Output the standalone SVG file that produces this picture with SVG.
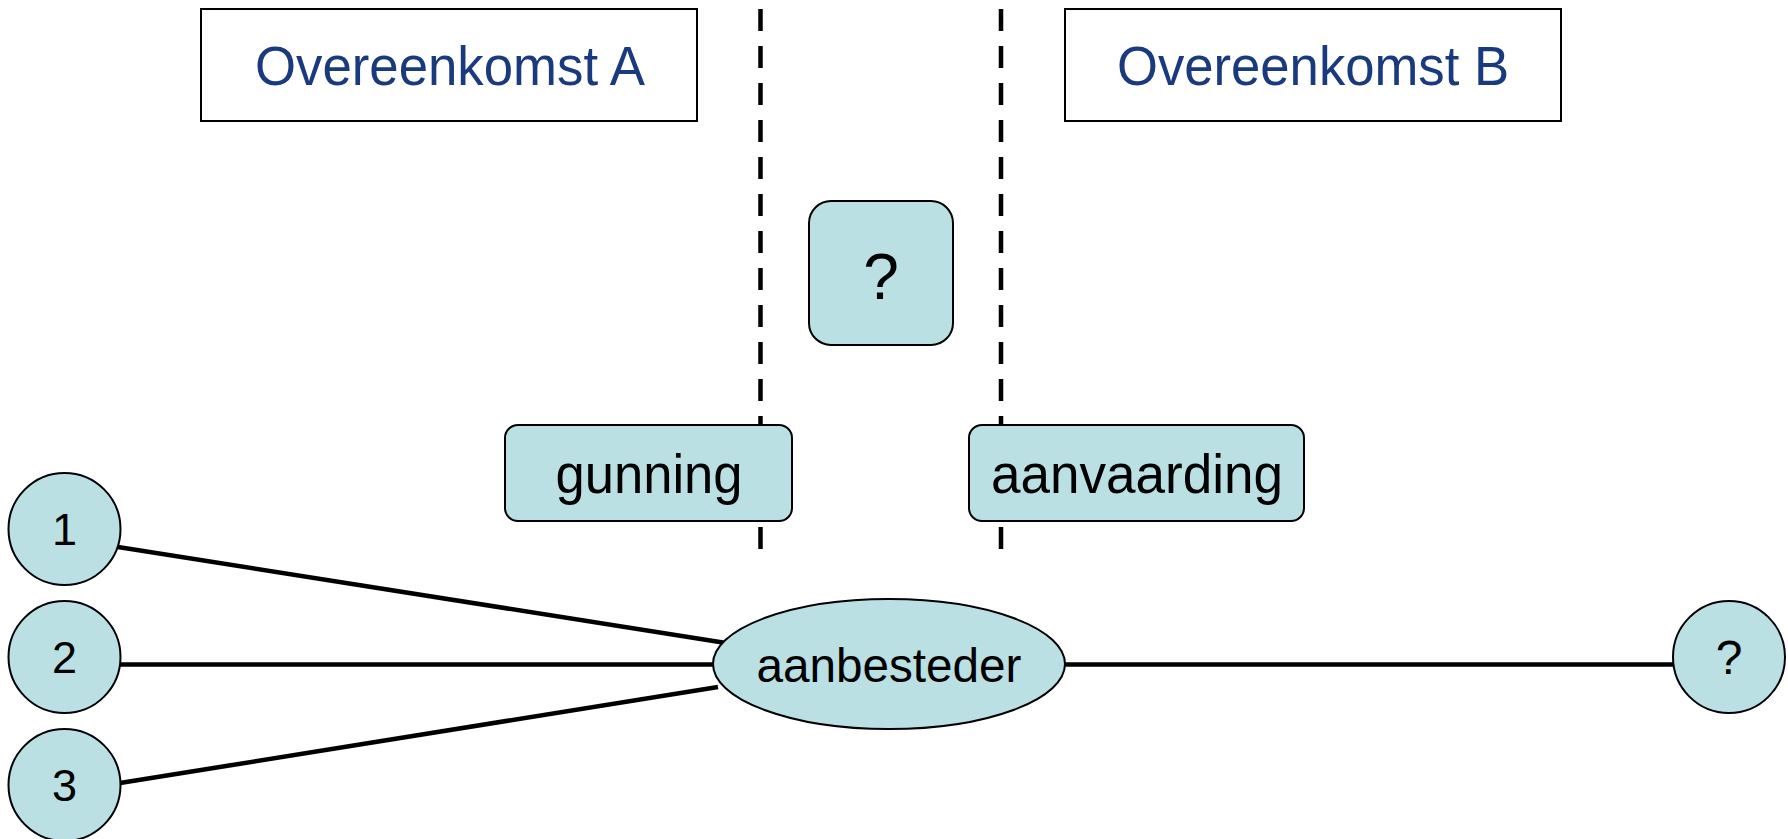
<svg xmlns="http://www.w3.org/2000/svg" width="1788" height="839" viewBox="0 0 1788 839">
<style>
.hdr{fill:#fff;stroke:#000;stroke-width:2}
.hdrt{font-family:"Liberation Sans",Arial,sans-serif;font-size:56px;fill:#1a3a80;text-anchor:middle}
.nd{fill:#bbe0e3;stroke:#000;stroke-width:2}
.t{font-family:"Liberation Sans",Arial,sans-serif;fill:#000;text-anchor:middle}
.dash{stroke:#000;stroke-width:4.5;stroke-dasharray:22 15;fill:none}
.con{stroke:#000;stroke-width:4.5;fill:none}
</style>
<rect width="1788" height="839" fill="#fff"/>
<g id="dividers">
<line class="dash" x1="760.5" y1="9" x2="760.5" y2="553"/>
<line class="dash" x1="1001" y1="9" x2="1001" y2="553"/>
</g>
<g id="connectors">
<line class="con" x1="118" y1="547" x2="726" y2="643"/>
<line class="con" x1="120" y1="664.5" x2="714" y2="664.5"/>
<line class="con" x1="120" y1="783" x2="718" y2="687"/>
<line class="con" x1="1064" y1="664.5" x2="1673" y2="664.5"/>
</g>
<g id="overeenkomstA">
<rect class="hdr" x="201" y="9" width="496" height="112"/>
<text class="hdrt" x="450" y="85" textLength="390" lengthAdjust="spacingAndGlyphs">Overeenkomst A</text>
</g>
<g id="overeenkomstB">
<rect class="hdr" x="1065" y="9" width="496" height="112"/>
<text class="hdrt" x="1313" y="85" textLength="392" lengthAdjust="spacingAndGlyphs">Overeenkomst B</text>
</g>
<g id="vraag">
<rect class="nd" x="809" y="201" width="144" height="144" rx="22"/>
<text class="t" x="881" y="299" font-size="64">?</text>
</g>
<g id="gunning">
<rect class="nd" x="505" y="425" width="287" height="96" rx="13"/>
<text class="t" x="649" y="493" font-size="56" textLength="187" lengthAdjust="spacingAndGlyphs">gunning</text>
</g>
<g id="aanvaarding">
<rect class="nd" x="969" y="425" width="335" height="96" rx="13"/>
<text class="t" x="1137" y="493" font-size="56" textLength="292" lengthAdjust="spacingAndGlyphs">aanvaarding</text>
</g>
<g id="n1">
<circle class="nd" cx="64.5" cy="529" r="56"/>
<text class="t" x="64.5" y="545" font-size="45">1</text>
</g>
<g id="n2">
<circle class="nd" cx="64.5" cy="657" r="56"/>
<text class="t" x="64.5" y="673" font-size="45">2</text>
</g>
<g id="n3">
<circle class="nd" cx="64.5" cy="785" r="56"/>
<text class="t" x="64.5" y="801" font-size="45">3</text>
</g>
<g id="aanbesteder">
<ellipse class="nd" cx="889" cy="664" rx="176" ry="65"/>
<text class="t" x="889" y="682" font-size="48" textLength="265" lengthAdjust="spacingAndGlyphs">aanbesteder</text>
</g>
<g id="onbekend">
<circle class="nd" cx="1729" cy="657" r="56"/>
<text class="t" x="1729" y="674" font-size="48">?</text>
</g>
</svg>
